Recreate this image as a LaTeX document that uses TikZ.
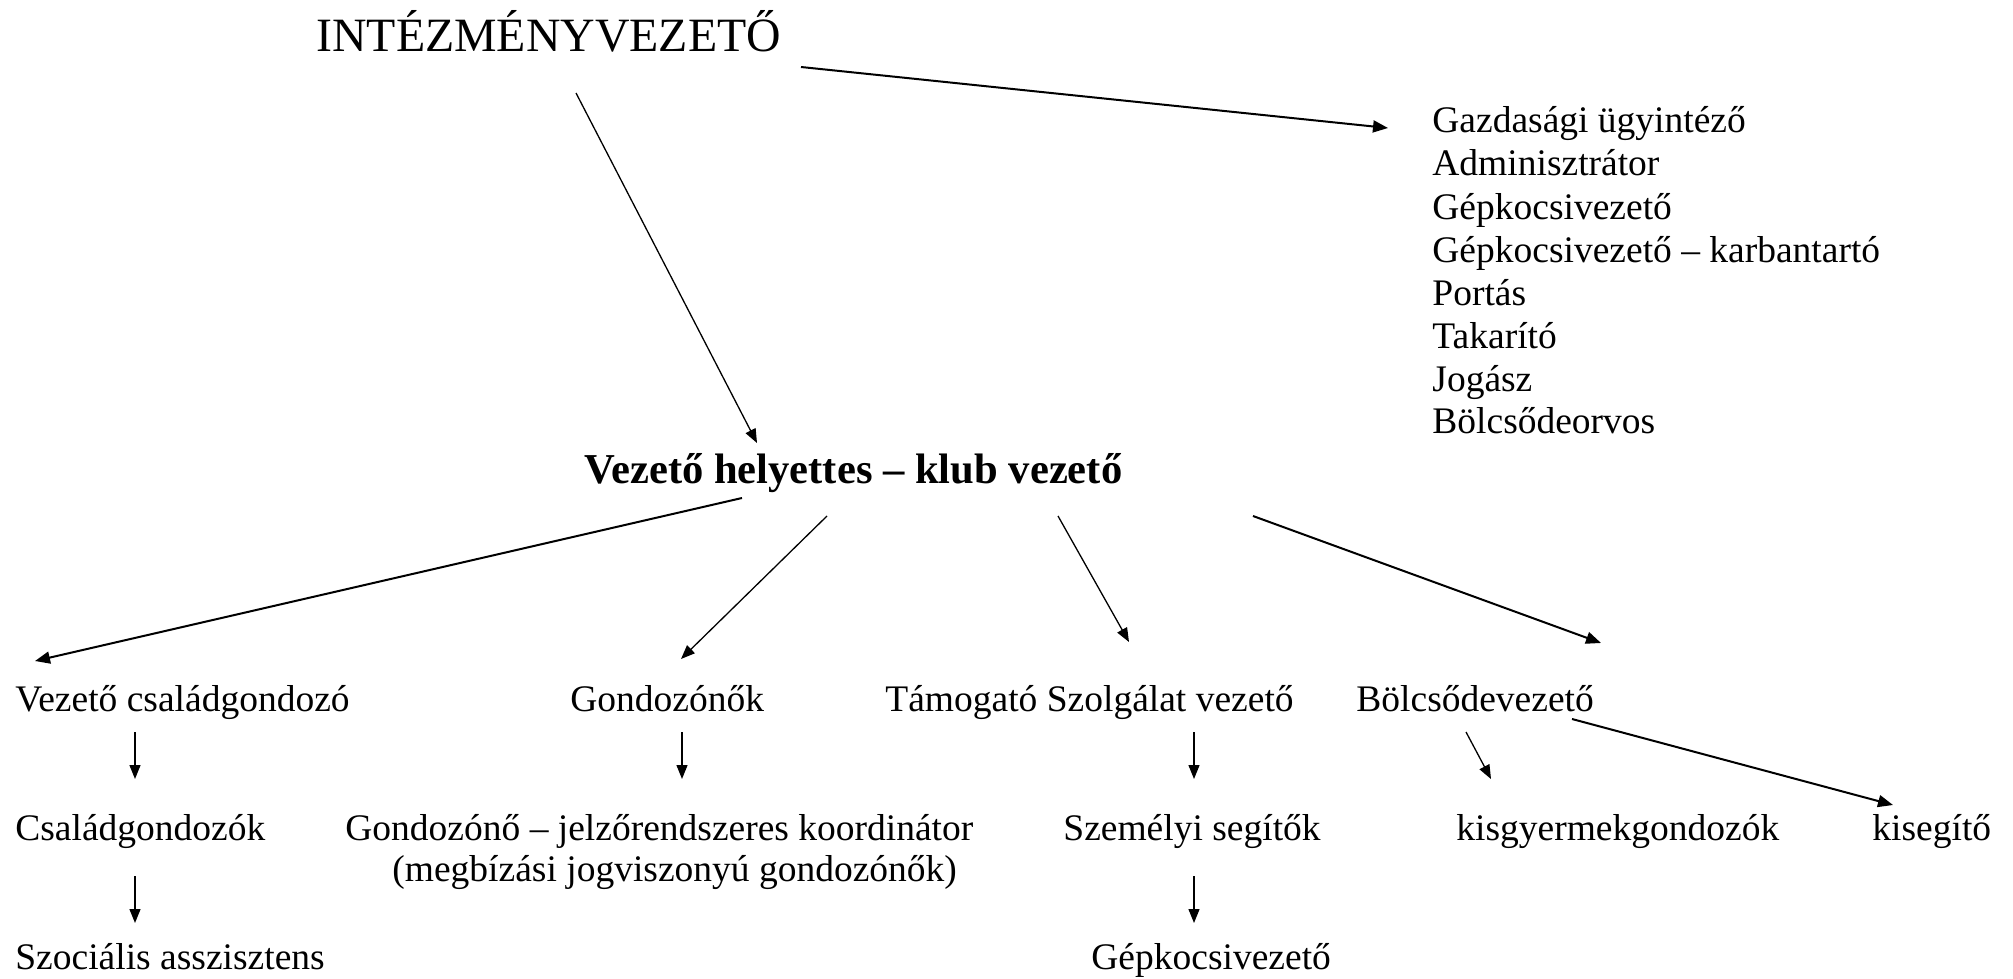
\documentclass[tikz,border=0pt]{standalone}
\usepackage{fontspec}
\setmainfont{Liberation Serif}
\usetikzlibrary{arrows.meta,calc}
\tikzset{
  lbl/.style={inner sep=0pt, anchor=base west, font=\fontsize{18.75pt}{21.45pt}\selectfont},
  ttl/.style={inner sep=0pt, anchor=base west, font=\fontsize{23.9pt}{27pt}\selectfont},
  bld/.style={inner sep=0pt, anchor=base west, font=\fontsize{21.3pt}{25pt}\selectfont\bfseries},
  arr/.style={line width=0.65pt, -{Triangle[length=7pt,width=5.5pt]}},
  arrb/.style={line width=1pt, -{Triangle[length=7.5pt,width=6pt]}}
}
\begin{document}
\begin{tikzpicture}[x=0.5pt,y=-0.5pt]
\useasboundingbox (0,0) rectangle (2013,979);
% nodes
\node[ttl] (title) at (316,52) {INTÉZMÉNYVEZETŐ};
\node[lbl] (l1) at (1432,133) {Gazdasági ügyintéző};
\node[lbl] (l2) at (1432,176) {Adminisztrátor};
\node[lbl] (l3) at (1432,219) {Gépkocsivezető};
\node[lbl] (l4) at (1432,262) {Gépkocsivezető – karbantartó};
\node[lbl] (l5) at (1432,305) {Portás};
\node[lbl] (l6) at (1432,348) {Takarító};
\node[lbl] (l7) at (1432,391) {Jogász};
\node[lbl] (l8) at (1432,433) {Bölcsődeorvos};
\node[bld] (bold) at (584,483) {Vezető helyettes – klub vezető};
\node[lbl] (vcg) at (15,711) {Vezető családgondozó};
\node[lbl] (gond) at (570,711) {Gondozónők};
\node[lbl] (tam) at (885,711) {Támogató Szolgálat vezető};
\node[lbl] (bolcs) at (1356,711) {Bölcsődevezető};
\node[lbl] (csg) at (15,840) {Családgondozók};
\node[lbl] (gjk) at (345,840) {Gondozónő – jelzőrendszeres koordinátor};
\node[lbl] (megb) at (392,881) {(megbízási jogviszonyú gondozónők)};
\node[lbl] (szem) at (1063,840) {Személyi segítők};
\node[lbl] (kisgy) at (1456,840) {kisgyermekgondozók};
\node[lbl] (kiseg) at (1872,840) {kisegítő};
\node[lbl] (szoc) at (15,969) {Szociális asszisztens};
\node[lbl] (gep) at (1091,969) {Gépkocsivezető};
% connectors
\draw[arrb] ($(title.base west)+(485,15)$) -- ($(l1.base west)+(-44,-5)$);
\draw[arr] ($(title.base west)+(260,41)$) -- ($(bold.base west)+(173,-40)$);
\draw[arrb] ($(bold.base west)+(158,15)$) -- ($(vcg.base west)+(20,-50)$);
\draw[arr] ($(bold.base west)+(243,33)$) -- ($(gond.base west)+(111,-52)$);
\draw[arr] ($(bold.base west)+(474,33)$) -- ($(tam.base west)+(244,-69)$);
\draw[arrb] ($(bold.base west)+(669,33)$) -- ($(bolcs.base west)+(245,-68)$);
\draw[arr] ($(vcg.base west)+(120,21)$) -- ($(csg.base west)+(120,-61)$);
\draw[arr] ($(csg.base west)+(120,36)$) -- ($(szoc.base west)+(120,-46)$);
\draw[arr] ($(gond.base west)+(112,21)$) -- ($(gjk.base west)+(337,-61)$);
\draw[arr] ($(tam.base west)+(309,21)$) -- ($(szem.base west)+(131,-61)$);
\draw[arr] ($(szem.base west)+(131,36)$) -- ($(gep.base west)+(103,-46)$);
\draw[arr] ($(bolcs.base west)+(110,21)$) -- ($(kisgy.base west)+(35,-61)$);
\draw[arrb] ($(bolcs.base west)+(216,8)$) -- ($(kiseg.base west)+(21,-35)$);
\end{tikzpicture}
\end{document}
